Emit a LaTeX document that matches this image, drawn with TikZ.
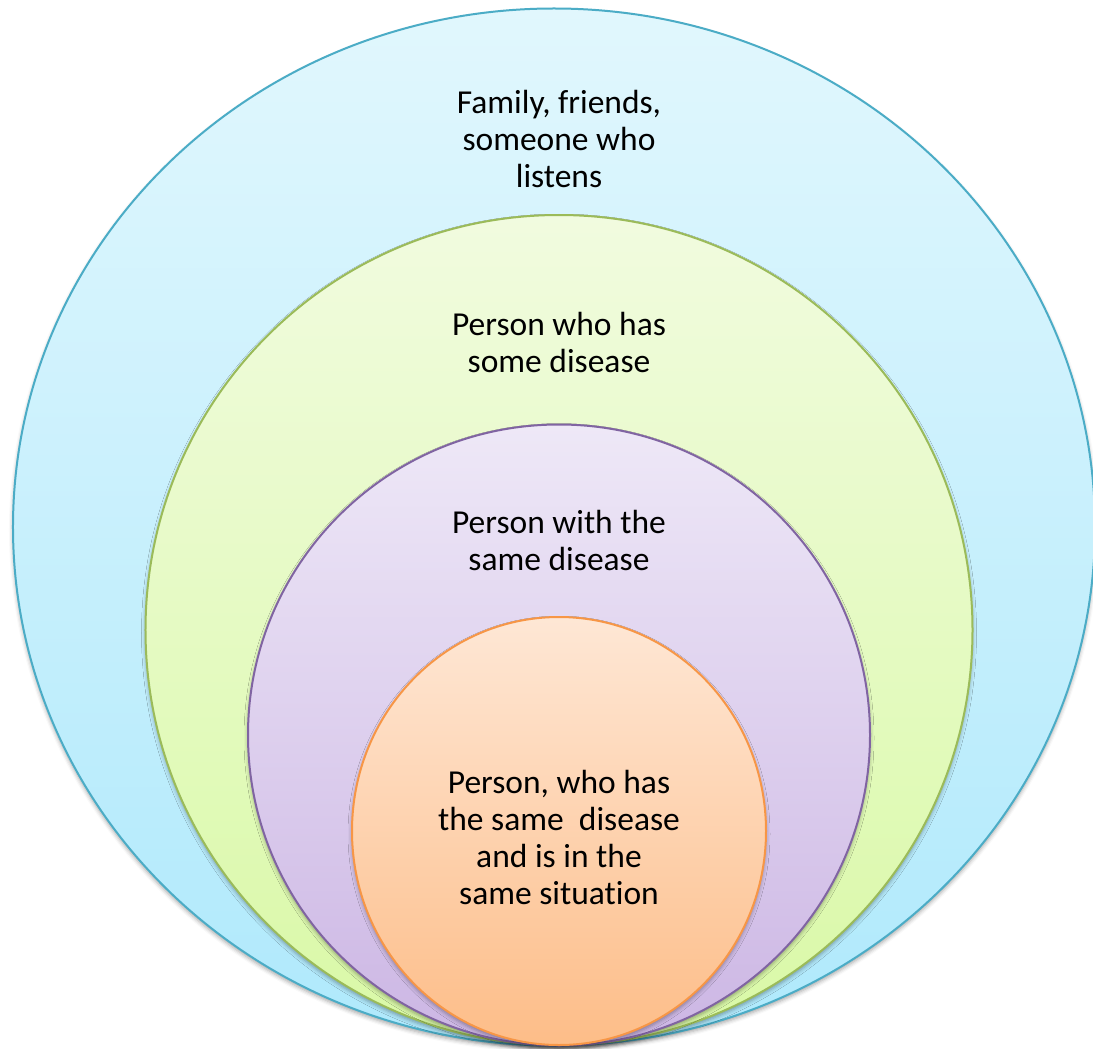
\documentclass[tikz,border=0pt]{standalone}
\usepackage{fontspec}
\setmainfont{Carlito}[RawFeature=-liga]
\usetikzlibrary{shapes.geometric,shadows.blur}
\definecolor{bluefillA}{HTML}{E1F7FD}
\definecolor{bluefillB}{HTML}{AFE9FC}
\definecolor{blueline}{HTML}{4BACC6}
\definecolor{greenfillA}{HTML}{F1FBDF}
\definecolor{greenfillB}{HTML}{D9F9A6}
\definecolor{greenline}{HTML}{9BBB59}
\definecolor{purplefillA}{HTML}{EEE8F7}
\definecolor{purplefillB}{HTML}{CCB6E4}
\definecolor{purpleline}{HTML}{8064A2}
\definecolor{orangefillA}{HTML}{FEE7D5}
\definecolor{orangefillB}{HTML}{FDBD88}
\definecolor{orangeline}{HTML}{F79646}
\tikzset{
  ring/.style={ellipse, inner sep=0pt, line width=2bp,
    blur shadow={shadow xshift=0bp, shadow yshift=-3bp, shadow blur radius=4bp, shadow opacity=35}},
  label/.style={align=center, font=\fontsize{33.5bp}{37bp}\selectfont, text=black}
}
\begin{document}
\begin{tikzpicture}[x=1bp,y=-1bp]
\useasboundingbox (0,0) rectangle (1093,1049);
\node[ring, draw=blueline, top color=bluefillA, bottom color=bluefillB,
  minimum width=1082bp, minimum height=1037bp] (outer) at (554,527) {};
\node[ring, draw=greenline, top color=greenfillA, bottom color=greenfillB,
  minimum width=827bp, minimum height=830bp] (green) at (559,630) {};
\node[ring, draw=purpleline, top color=purplefillA, bottom color=purplefillB,
  minimum width=622bp, minimum height=621bp] (purple) at (559,735) {};
\node[ring, draw=orangeline, top color=orangefillA, bottom color=orangefillB,
  minimum width=414bp, minimum height=428bp] (orange) at (559,831) {};
\node[label] (t1) at (559,139) {Family, friends,\\someone who\\listens};
\node[label] (t2) at (559,342) {Person who has\\some disease};
\node[label] (t3) at (559,540) {Person with the\\same disease};
\node[label] (t4) at (559,837) {Person, who has\\the same\ \ disease\\and is in the\\same situation};
\end{tikzpicture}
\end{document}
